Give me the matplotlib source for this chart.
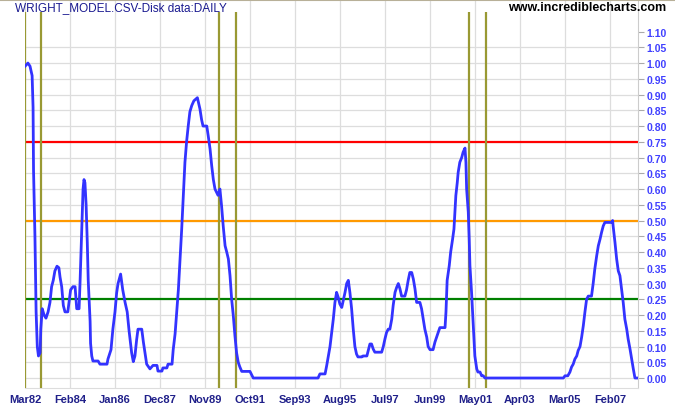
import matplotlib
matplotlib.use('Agg')
import matplotlib.pyplot as plt
from matplotlib.lines import Line2D

# datos (anio decimal, valor del modelo)
anios = [1982.17, 1982.29, 1982.38, 1982.47, 1982.51, 1982.53, 1982.59, 1982.64, 1982.69, 1982.74,
         1982.81, 1982.84, 1982.90, 1982.98, 1983.06, 1983.15, 1983.23, 1983.30, 1983.37, 1983.44,
         1983.53, 1983.61, 1983.66, 1983.73, 1983.80, 1983.87, 1983.99, 1984.04, 1984.11, 1984.21,
         1984.30, 1984.37, 1984.47, 1984.51, 1984.55, 1984.59, 1984.64, 1984.68, 1984.72, 1984.77,
         1984.82, 1984.86, 1984.94, 1984.96, 1985.01, 1985.06, 1985.28, 1985.36, 1985.66, 1985.70,
         1985.83, 1985.91, 1986.00, 1986.07, 1986.13, 1986.24, 1986.33, 1986.43, 1986.52, 1986.60,
         1986.71, 1986.78, 1986.85, 1986.92, 1986.98, 1987.14, 1987.21, 1987.28, 1987.35, 1987.49,
         1987.62, 1987.79, 1987.83, 1988.00, 1988.04, 1988.21, 1988.26, 1988.43, 1988.48, 1988.56,
         1988.63, 1988.70, 1988.77, 1988.84, 1988.91, 1988.98, 1989.05, 1989.12, 1989.19, 1989.27,
         1989.36, 1989.51, 1989.62, 1989.69, 1989.75, 1989.91, 1989.97, 1990.05, 1990.12, 1990.19,
         1990.26, 1990.39, 1990.47, 1990.54, 1990.61, 1990.69, 1990.76, 1990.83, 1990.90, 1990.97,
         1991.04, 1991.11, 1991.18, 1991.25, 1991.32, 1991.40, 1991.75, 1991.89, 1994.65, 1994.73,
         1994.95, 1995.02, 1995.09, 1995.16, 1995.23, 1995.30, 1995.37, 1995.44, 1995.51, 1995.58,
         1995.66, 1995.72, 1995.80, 1995.87, 1995.94, 1996.01, 1996.08, 1996.15, 1996.22, 1996.29,
         1996.35, 1996.52, 1996.56, 1996.73, 1996.79, 1996.86, 1996.93, 1997.00, 1997.07, 1997.36,
         1997.43, 1997.50, 1997.57, 1997.64, 1997.71, 1997.79, 1997.85, 1997.93, 1998.00, 1998.07,
         1998.14, 1998.21, 1998.35, 1998.42, 1998.49, 1998.56, 1998.64, 1998.71, 1998.78, 1998.85,
         1998.99, 1999.06, 1999.13, 1999.20, 1999.28, 1999.34, 1999.42, 1999.55, 1999.63, 1999.70,
         1999.77, 1999.84, 2000.06, 2000.10, 2000.15, 2000.24, 2000.30, 2000.38, 2000.44, 2000.48,
         2000.52, 2000.58, 2000.62, 2000.69, 2000.77, 2000.83, 2000.91, 2000.95, 2000.98, 2001.05,
         2001.09, 2001.12, 2001.19, 2001.24, 2001.29, 2001.33, 2001.41, 2001.46, 2001.55, 2001.62,
         2001.69, 2001.76, 2005.10, 2005.17, 2005.29, 2005.38, 2005.45, 2005.52, 2005.59, 2005.67,
         2005.73, 2005.81, 2005.88, 2005.95, 2006.02, 2006.09, 2006.16, 2006.30, 2006.37, 2006.44,
         2006.52, 2006.59, 2006.66, 2006.73, 2006.80, 2006.87, 2007.16, 2007.20, 2007.22, 2007.30,
         2007.37, 2007.44, 2007.51, 2007.58, 2007.65, 2007.72, 2007.80, 2007.86, 2007.94, 2008.01,
         2008.08, 2008.15, 2008.23]

valores = [0.99, 1.00, 0.99, 0.96, 0.86, 0.66, 0.45, 0.21, 0.10, 0.07,
           0.08, 0.155, 0.22, 0.20, 0.19, 0.21, 0.24, 0.29, 0.31, 0.34,
           0.355, 0.35, 0.32, 0.29, 0.23, 0.21, 0.21, 0.24, 0.28, 0.29,
           0.29, 0.22, 0.22, 0.30, 0.39, 0.49, 0.60, 0.63, 0.62, 0.55,
           0.43, 0.31, 0.18, 0.11, 0.07, 0.054, 0.054, 0.044, 0.044, 0.06,
           0.09, 0.155, 0.21, 0.27, 0.30, 0.33, 0.28, 0.24, 0.21, 0.15,
           0.08, 0.052, 0.07, 0.12, 0.155, 0.155, 0.114, 0.08, 0.044, 0.029,
           0.04, 0.04, 0.022, 0.022, 0.032, 0.032, 0.044, 0.044, 0.09, 0.14,
           0.21, 0.28, 0.377, 0.47, 0.578, 0.685, 0.75, 0.80, 0.845, 0.865,
           0.88, 0.89, 0.854, 0.82, 0.80, 0.80, 0.77, 0.727, 0.674, 0.63,
           0.60, 0.58, 0.60, 0.547, 0.483, 0.42, 0.40, 0.378, 0.325, 0.25,
           0.198, 0.134, 0.08, 0.05, 0.035, 0.021, 0.021, 0.00, 0.00, 0.013,
           0.013, 0.04, 0.07, 0.10, 0.145, 0.187, 0.24, 0.272, 0.256, 0.235,
           0.224, 0.245, 0.272, 0.30, 0.31, 0.27, 0.22, 0.155, 0.10, 0.076,
           0.067, 0.067, 0.07, 0.07, 0.087, 0.108, 0.108, 0.092, 0.082, 0.082,
           0.10, 0.124, 0.145, 0.155, 0.155, 0.187, 0.23, 0.272, 0.288, 0.30,
           0.283, 0.26, 0.26, 0.28, 0.31, 0.335, 0.335, 0.314, 0.283, 0.24,
           0.24, 0.22, 0.187, 0.155, 0.13, 0.10, 0.09, 0.09, 0.114, 0.13,
           0.145, 0.16, 0.16, 0.21, 0.31, 0.357, 0.40, 0.44, 0.473, 0.527,
           0.579, 0.62, 0.653, 0.685, 0.70, 0.717, 0.73, 0.685, 0.60, 0.527,
           0.44, 0.357, 0.272, 0.198, 0.124, 0.07, 0.029, 0.019, 0.019, 0.007,
           0.007, 0.00, 0.00, 0.007, 0.007, 0.019, 0.035, 0.044, 0.06, 0.07,
           0.087, 0.10, 0.13, 0.166, 0.21, 0.25, 0.26, 0.26, 0.30, 0.346,
           0.388, 0.42, 0.44, 0.463, 0.483, 0.494, 0.494, 0.50, 0.483, 0.43,
           0.378, 0.34, 0.325, 0.283, 0.24, 0.187, 0.155, 0.124, 0.092, 0.06,
           0.029, 0.00, 0.00]

# recesiones (lineas verticales) y niveles
recesiones = [1982.17, 1982.85, 1990.43, 1991.15, 2001.06, 2001.79]
niveles = [0.75, 0.50, 0.25]
coloresNivel = ['#ff0000', '#ff9900', '#008000']

# etiquetas del eje x cada 23 meses desde Mar82
etiquetasX = ['Mar82', 'Feb84', 'Jan86', 'Dec87', 'Nov89', 'Oct91', 'Sep93',
              'Aug95', 'Jul97', 'Jun99', 'May01', 'Apr03', 'Mar05', 'Feb07']
posX = [1982 + 2/12 + i * 23/12 for i in range(len(etiquetasX))]
posY = [i * 0.05 for i in range(23)]

plt.rcParams['font.family'] = ['Liberation Sans', 'DejaVu Sans']

fig = plt.figure(figsize=(6.75, 4.1), dpi=100)
ax = fig.add_axes([25/675, 1 - 389/410, 613/675, 387/410])

ax.set_xlim(1982.167, 2008.28)
ax.set_ylim(-0.0317, 1.197)

# cuadricula
ax.set_xticks(posX)
ax.set_xticklabels(etiquetasX)
ax.set_yticks(posY)
ax.set_yticklabels(['%.2f' % v for v in posY])
ax.grid(True, color='#dddddd', linewidth=0.9)
ax.set_axisbelow(True)
ax.yaxis.get_gridlines()[-1].set_visible(False)

ax.yaxis.tick_right()
ax.tick_params(axis='y', length=4, color='#aaaaaa', labelsize=7.5, labelcolor='#4040ff', pad=2)
ax.tick_params(axis='x', length=0, labelsize=8, labelcolor='#20208a', pad=4)
for t in ax.get_yticklabels():
    t.set_fontweight('bold')
for t in ax.get_xticklabels():
    t.set_fontweight('bold')

for lado in ['left', 'top']:
    ax.spines[lado].set_visible(False)
ax.spines['right'].set_color('#cccccc')
ax.spines['bottom'].set_color('#dddddd')

# lineas de nivel
for nivel, color in zip(niveles, coloresNivel):
    ax.axhline(nivel, color=color, linewidth=1.6, zorder=2)

# lineas de recesion
ax.vlines(recesiones, -0.04, 1.162, colors='#999933', linewidth=1.6, zorder=3)

# la serie
ax.plot(anios, valores, color='#3333ff', linewidth=2, zorder=4)

# textos y borde superior
fig.text(15/675, 1 - 8/410, 'WRIGHT_MODEL.CSV-Disk data:DAILY', color='#1a1a90',
         fontsize=8.5, va='center', ha='left')
fig.text(666/675, 1 - 8/410, 'www.incrediblecharts.com', color='black',
         fontsize=9, fontweight='bold', va='center', ha='right')
fig.add_artist(Line2D([0, 1], [0.998, 0.998], transform=fig.transFigure,
                      color='#b8b098', linewidth=1.5))

fig.savefig('out.png', dpi=100)
